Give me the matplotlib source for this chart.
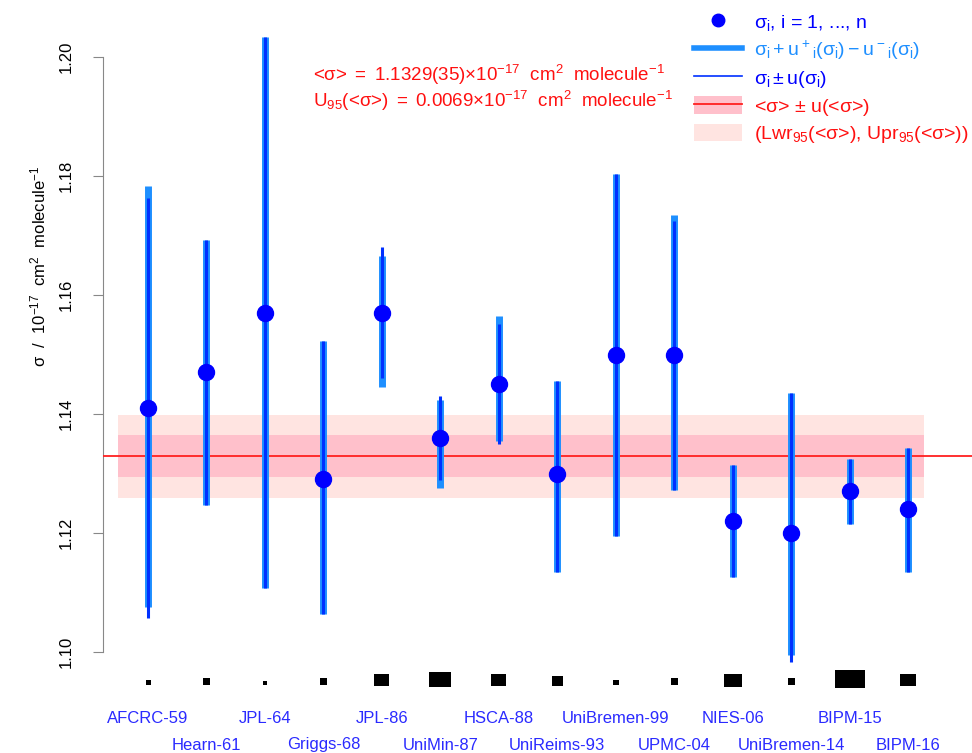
import matplotlib
matplotlib.use("Agg")
import matplotlib.pyplot as plt
from matplotlib.lines import Line2D
from matplotlib.patches import Patch, Rectangle
import numpy as np

plt.rcParams['font.family'] = ['Liberation Sans', 'DejaVu Sans']
plt.rcParams['mathtext.fontset'] = 'custom'
plt.rcParams['mathtext.rm'] = 'Liberation Sans'
plt.rcParams['mathtext.it'] = 'Liberation Sans'
plt.rcParams['mathtext.sf'] = 'Liberation Sans'

labs = ["AFCRC-59", "Hearn-61", "JPL-64", "Griggs-68", "JPL-86", "UniMin-87",
        "HSCA-88", "UniReims-93", "UniBremen-99", "UPMC-04", "NIES-06",
        "UniBremen-14", "BIPM-15", "BIPM-16"]
sig = [1.141, 1.147, 1.157, 1.129, 1.157, 1.136, 1.145, 1.130, 1.150, 1.150,
       1.122, 1.120, 1.127, 1.124]
# asymmetric interval (thick bars)
thick_lo = [1.1076, 1.1247, 1.1107, 1.1064, 1.1445, 1.1275, 1.1354, 1.1134,
            1.1195, 1.1273, 1.1126, 1.0995, 1.1215, 1.1134]
thick_hi = [1.1783, 1.1693, 1.2034, 1.1523, 1.1665, 1.1423, 1.1564, 1.1455,
            1.1804, 1.1735, 1.1314, 1.1435, 1.1324, 1.1343]
# symmetric interval (thin bars)
thin_lo = [1.1057, 1.1247, 1.1107, 1.1064, 1.1460, 1.1289, 1.1349, 1.1134,
           1.1195, 1.1273, 1.1126, 1.0983, 1.1215, 1.1134]
thin_hi = [1.1763, 1.1693, 1.2034, 1.1523, 1.1680, 1.1430, 1.1552, 1.1455,
           1.1804, 1.1725, 1.1314, 1.1435, 1.1324, 1.1343]
# weight symbols at the bottom (width, height in px)
wt_w = [5, 7, 4, 7, 15, 22, 15, 11, 6, 7, 18, 7, 30, 16]
wt_h = [5, 7, 4, 7, 12, 15, 12, 10, 5, 7, 13, 7, 18, 12]

mean_sig = 1.1329
u_mean = 0.0035
lwr95, upr95 = 1.1259, 1.1398

W, H = 972, 753
fig = plt.figure(figsize=(W / 100, H / 100), dpi=100)
ax = fig.add_axes([103 / W, 0, 1 - 103 / W, 1])

# pixel <-> data setup: 1.10 at y=652, 1.20 at y=57
ppu = (652 - 57) / 0.10
ax.set_ylim(1.10 - (H - 652) / ppu, 1.10 + 652 / ppu)
dx = 58.46
ax.set_xlim(1 + (103 - 148) / dx, 1 + (W - 148) / dx)

x = np.arange(1, len(labs) + 1)

band_x0 = 1 + (118 - 148) / dx
band_x1 = 1 + (924 - 148) / dx
ax.fill_between([band_x0, band_x1], lwr95, upr95, color="#ffe4e1", lw=0, zorder=1)
ax.fill_between([band_x0, band_x1], mean_sig - u_mean, mean_sig + u_mean,
                color="#ffc0cb", lw=0, zorder=2)
ax.axhline(mean_sig, color="#ff2020", lw=1.3, zorder=3)

ax.vlines(x, thick_lo, thick_hi, color="#1e8fff", lw=5, zorder=4)
ax.vlines(x, thin_lo, thin_hi, color="#0030ff", lw=2.2, zorder=5)
ax.plot(x, sig, "o", color="#0000ff", ms=11.5, zorder=6)

# weight rectangles
for xi, w, h in zip(x, wt_w, wt_h):
    cy = 684 - 0.3 * h
    y0 = 1.10 - (cy + h / 2 - 652) / ppu
    ax.add_patch(Rectangle((xi - w / 2 / dx, y0), w / dx, h / ppu,
                           color="black", lw=0, zorder=6, clip_on=False))

# category labels in two rows
for i, (xi, lab) in enumerate(zip(x, labs)):
    py = 718 if i % 2 == 0 else 745
    ax.text(xi, 1.10 - (py - 652) / ppu, lab, color="#2a2aff", fontsize=12,
            ha="center", va="center", clip_on=False)

ax.set_yticks([1.10, 1.12, 1.14, 1.16, 1.18, 1.20])
ax.set_yticklabels(["1.10", "1.12", "1.14", "1.16", "1.18", "1.20"],
                   rotation=90, va="center", fontsize=12)
ax.set_xticks([])
for s in ["top", "right", "bottom"]:
    ax.spines[s].set_visible(False)
ax.spines["left"].set_bounds(1.10, 1.20)
ax.spines["left"].set_color("#888888")
ax.tick_params(axis="y", length=7, color="#888888", pad=14)

fig.text(38 / W, 1 - 266 / H, r"$\sigma$  /  $10^{-17}$  cm$^2$  molecule$^{-1}$",
         rotation=90, ha="center", va="center", fontsize=12)

ax.text(1 + (313 - 148) / dx, 1.10 + (652 - 75) / ppu,
        r"<$\sigma$> $=$ 1.1329(35)$\times$10$^{-17}$  cm$^2$  molecule$^{-1}$",
        color="#ff1010", fontsize=13.5, va="center")
ax.text(1 + (313 - 148) / dx, 1.10 + (652 - 101) / ppu,
        r"U$_{95}$(<$\sigma$>) $=$ 0.0069$\times$10$^{-17}$  cm$^2$  molecule$^{-1}$",
        color="#ff1010", fontsize=13.5, va="center")

handles = [
    Line2D([], [], ls="none", marker="o", color="#0000ff", ms=9),
    Line2D([], [], color="#1e8fff", lw=4),
    Line2D([], [], color="#0030ff", lw=1.2),
    (Patch(color="#ffc0cb", lw=0), Line2D([], [], color="#ff2020", lw=1.3)),
    Patch(color="#ffe4e1", lw=0),
]
texts = [
    r"$\sigma_i$, i = 1, ..., n",
    r"$\sigma_i + u^+{}_i(\sigma_i) - u^-{}_i(\sigma_i)$",
    r"$\sigma_i \pm u(\sigma_i)$",
    r"<$\sigma$> $\pm$ u(<$\sigma$>)",
    r"(Lwr$_{95}$(<$\sigma$>), Upr$_{95}$(<$\sigma$>))",
]
leg = ax.legend(handles, texts, loc="upper left",
                bbox_to_anchor=(676 / W, 1 + 5 / H), bbox_transform=fig.transFigure,
                frameon=False, fontsize=14, handlelength=2.5, handleheight=1.0,
                labelspacing=0.32, handletextpad=0.6,
                labelcolor=["#0000ff", "#1e8fff", "#0000ff", "#ff1010", "#ff1010"])

fig.savefig("out.png", dpi=100)
